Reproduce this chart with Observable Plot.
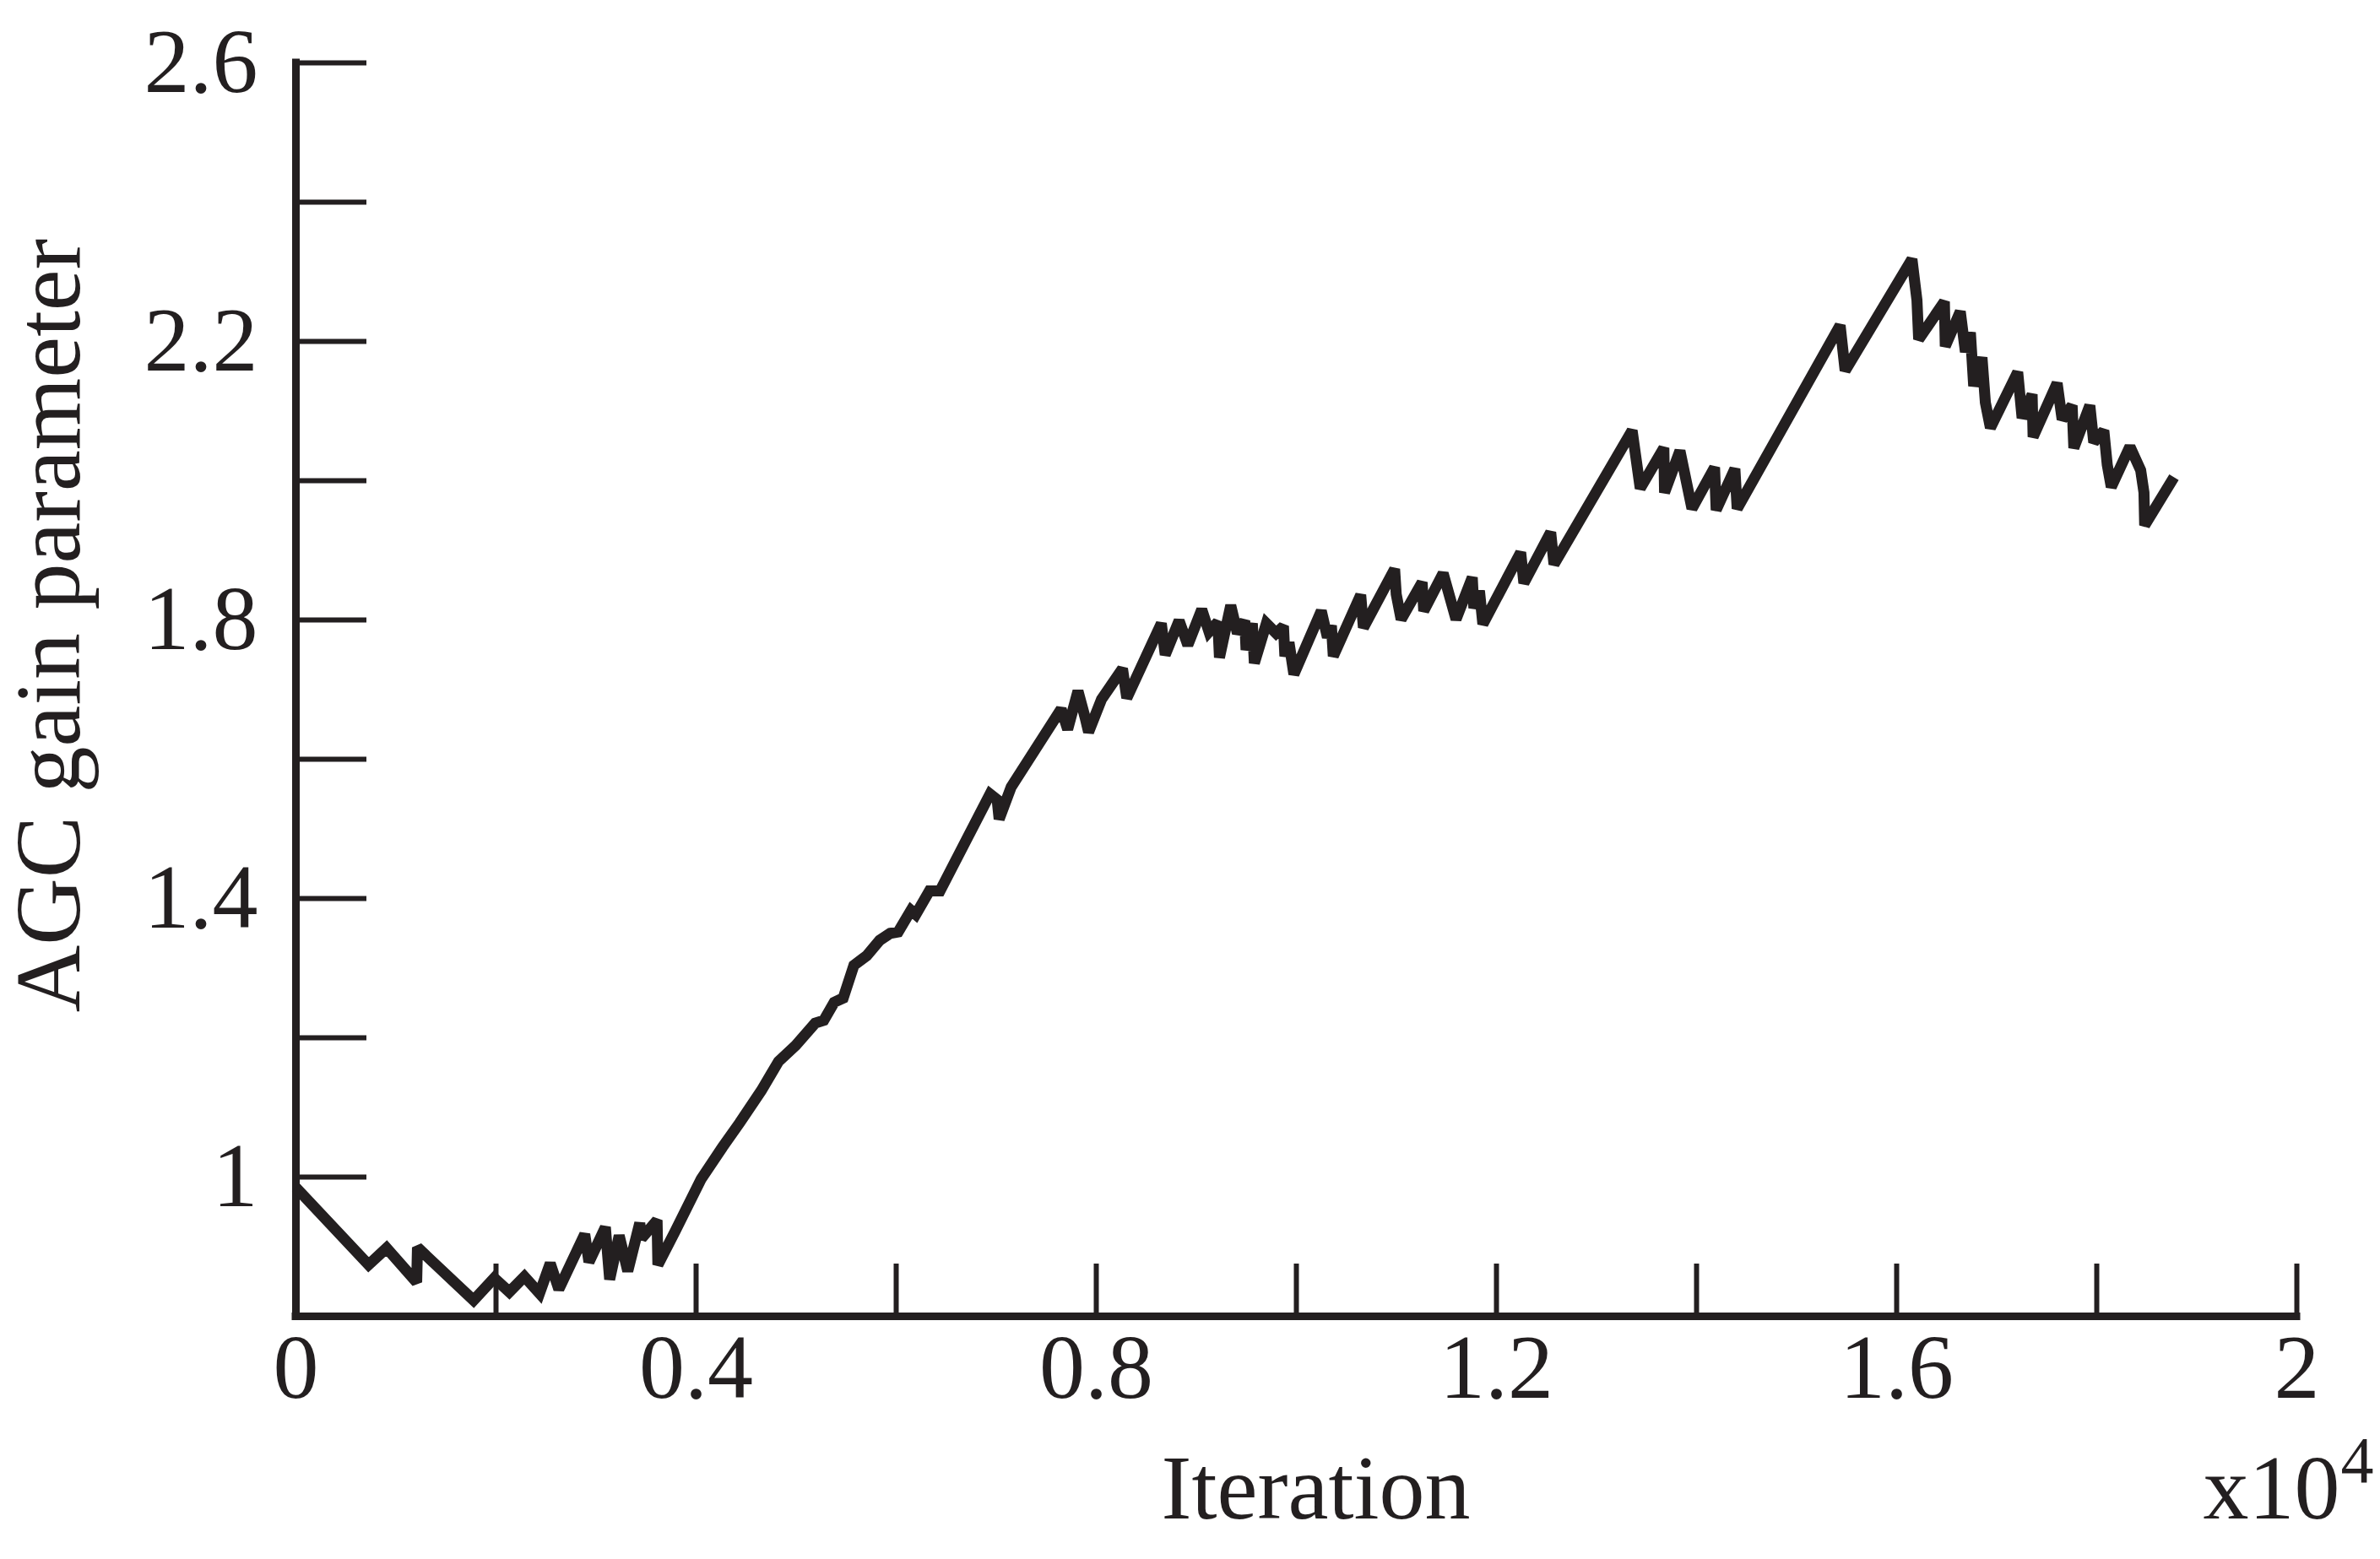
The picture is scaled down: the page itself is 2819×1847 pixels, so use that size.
<!DOCTYPE html>
<html>
<head>
<meta charset="utf-8">
<script src="https://cdn.jsdelivr.net/npm/d3@7"></script>
<script src="https://cdn.jsdelivr.net/npm/@observablehq/plot@0.6"></script>
<style>
  html, body { margin: 0; padding: 0; background: #ffffff; }
  #chart svg { display: block; }
</style>
</head>
<body>
<div id="chart"></div>
<script>
// Iteration, in units of 10^4 (as on the axis)
const iteration = [
  0, 0.0726, 0.0906, 0.1207, 0.1215, 0.1776, 0.1982, 0.2133, 0.2284, 0.2435,
  0.2542, 0.2628, 0.2887, 0.2929, 0.3093, 0.3136, 0.3231, 0.3317, 0.3437, 0.3455,
  0.3610, 0.3618, 0.379, 0.405, 0.4264, 0.4436, 0.4651, 0.4824, 0.4996, 0.519,
  0.5276, 0.538, 0.547, 0.5577, 0.5706, 0.5835, 0.594, 0.602, 0.6148, 0.6196,
  0.6332, 0.6438, 0.6938, 0.7009, 0.7029, 0.7149, 0.7649, 0.7714, 0.7817, 0.789,
  0.7923, 0.8052, 0.8262, 0.8305, 0.865, 0.8689, 0.8828, 0.8915, 0.9054, 0.9127,
  0.9215, 0.9231, 0.9344, 0.941, 0.9484, 0.9497, 0.956, 0.958, 0.970, 0.9797,
  0.9871, 0.9885, 0.9926, 0.9975, 1.0249, 1.031, 1.035, 1.0369, 1.0643, 1.067,
  1.0982, 1.0998, 1.1047, 1.1257, 1.1273, 1.1467, 1.1596, 1.1758, 1.1774, 1.1830,
  1.1864, 1.2242, 1.2274, 1.2542, 1.2575, 1.3356, 1.3437, 1.3673, 1.368, 1.3834,
  1.3954, 1.418, 1.4196, 1.4383, 1.4406, 1.5435, 1.5485, 1.6153, 1.6203, 1.622,
  1.6477, 1.6486, 1.6636, 1.6687, 1.6737, 1.677, 1.6853, 1.6887, 1.6937, 1.721,
  1.7254, 1.7354, 1.7364, 1.7604, 1.7654, 1.7754, 1.7771, 1.7931, 1.797, 1.8071,
  1.8105, 1.8145, 1.8332, 1.8439, 1.8472, 1.8479, 1.8772
];
const gain = [
  0.985, 0.874, 0.898, 0.849, 0.899, 0.823, 0.855, 0.835, 0.857, 0.833,
  0.876, 0.839, 0.918, 0.878, 0.928, 0.853, 0.916, 0.865, 0.934, 0.912,
  0.938, 0.874, 0.922, 0.997, 1.043, 1.078, 1.124, 1.166, 1.189, 1.221,
  1.225, 1.251, 1.257, 1.304, 1.318, 1.340, 1.350, 1.352, 1.383, 1.377,
  1.411, 1.411, 1.550, 1.542, 1.514, 1.560, 1.672, 1.643, 1.698, 1.659,
  1.639, 1.686, 1.730, 1.688, 1.795, 1.750, 1.799, 1.764, 1.815, 1.783,
  1.797, 1.746, 1.821, 1.781, 1.799, 1.757, 1.795, 1.738, 1.795, 1.781,
  1.791, 1.748, 1.768, 1.722, 1.813, 1.775, 1.792, 1.748, 1.836, 1.789,
  1.873, 1.837, 1.801, 1.854, 1.813, 1.867, 1.801, 1.861, 1.817, 1.842,
  1.794, 1.897, 1.853, 1.926, 1.880, 2.072, 1.989, 2.047, 1.983, 2.043,
  1.960, 2.019, 1.958, 2.017, 1.960, 2.223, 2.158, 2.318, 2.259, 2.203,
  2.257, 2.193, 2.243, 2.185, 2.213, 2.136, 2.177, 2.112, 2.076, 2.156,
  2.090, 2.124, 2.063, 2.140, 2.088, 2.108, 2.047, 2.108, 2.055, 2.072,
  2.023, 1.991, 2.049, 2.015, 1.983, 1.936, 2.005
];

const xDomain = [0, 2];
const yDomain = [0.8, 2.6];
const xTicks = [0.2, 0.4, 0.6, 0.8, 1.0, 1.2, 1.4, 1.6, 1.8, 2.0];
const xTickLabels = [0, 0.4, 0.8, 1.2, 1.6, 2];
const yTicks = [1.0, 1.2, 1.4, 1.6, 1.8, 2.0, 2.2, 2.4, 2.6];
const yTickLabels = [1, 1.4, 1.8, 2.2, 2.6];
const xTitle = ["Iteration"];
const yTitle = ["AGC gain parameter"];
const xMultiplier = ["x10"];
const xExponent = ["4"];

const ink = "#231f20";
const serif = "'Liberation Serif', 'Times New Roman', Times, serif";
const series = iteration.map((x, i) => ({x, y: gain[i]}));

const chart = Plot.plot({
  width: 2819,
  height: 1847,
  marginLeft: 350,
  marginRight: 99,
  marginTop: 74,
  marginBottom: 288,
  x: {domain: xDomain, label: null},
  y: {domain: yDomain, label: null},
  style: {fontFamily: serif, fontSize: "108px", color: ink, background: "#ffffff"},
  marks: [
    // inward tick marks
    Plot.axisX({ticks: xTicks, label: null, tickSize: 62, dy: -62, tickFormat: () => "", stroke: ink, strokeWidth: 6}),
    Plot.axisY({ticks: yTicks, label: null, tickSize: 84, dx: 84, tickFormat: () => "", stroke: ink, strokeWidth: 6}),
    // tick labels
    Plot.axisX({ticks: xTickLabels, label: null, tickSize: 0, tickPadding: 20, tickFormat: d => String(d), fontSize: 108, fill: ink, fontFamily: serif}),
    Plot.axisY({ticks: yTickLabels, label: null, tickSize: 0, tickPadding: 45, tickFormat: d => String(d), fontSize: 108, fill: ink, fontFamily: serif}),
    // axis lines
    Plot.ruleX([xDomain[0]], {y1: yDomain[0], y2: yDomain[1], stroke: ink, strokeWidth: 9, strokeLinecap: "square"}),
    Plot.ruleY([yDomain[0]], {x1: xDomain[0], x2: xDomain[1], stroke: ink, strokeWidth: 9, strokeLinecap: "square"}),
    // data
    Plot.line(series, {x: "x", y: "y", stroke: ink, strokeWidth: 13, strokeLinejoin: "miter", strokeMiterlimit: 2, strokeLinecap: "butt"}),
    // titles
    Plot.text(yTitle, {text: d => d, frameAnchor: "left", rotate: -90, dx: -257, dy: -76, lineAnchor: "bottom", textAnchor: "middle", fontSize: 110, fill: ink, fontFamily: serif}),
    Plot.text(xTitle, {text: d => d, frameAnchor: "bottom", dx: 23, dy: 239, lineAnchor: "bottom", textAnchor: "middle", fontSize: 108, fill: ink, fontFamily: serif}),
    Plot.text(xMultiplier, {text: d => d, frameAnchor: "bottom-right", dx: -111, dy: 239, lineAnchor: "bottom", textAnchor: "start", fontSize: 108, fill: ink, fontFamily: serif}),
    Plot.text(xExponent, {text: d => d, frameAnchor: "bottom-right", dx: 52, dy: 196, lineAnchor: "bottom", textAnchor: "start", fontSize: 78, fill: ink, fontFamily: serif})
  ]
});
document.getElementById("chart").appendChild(chart);
</script>
</body>
</html>
